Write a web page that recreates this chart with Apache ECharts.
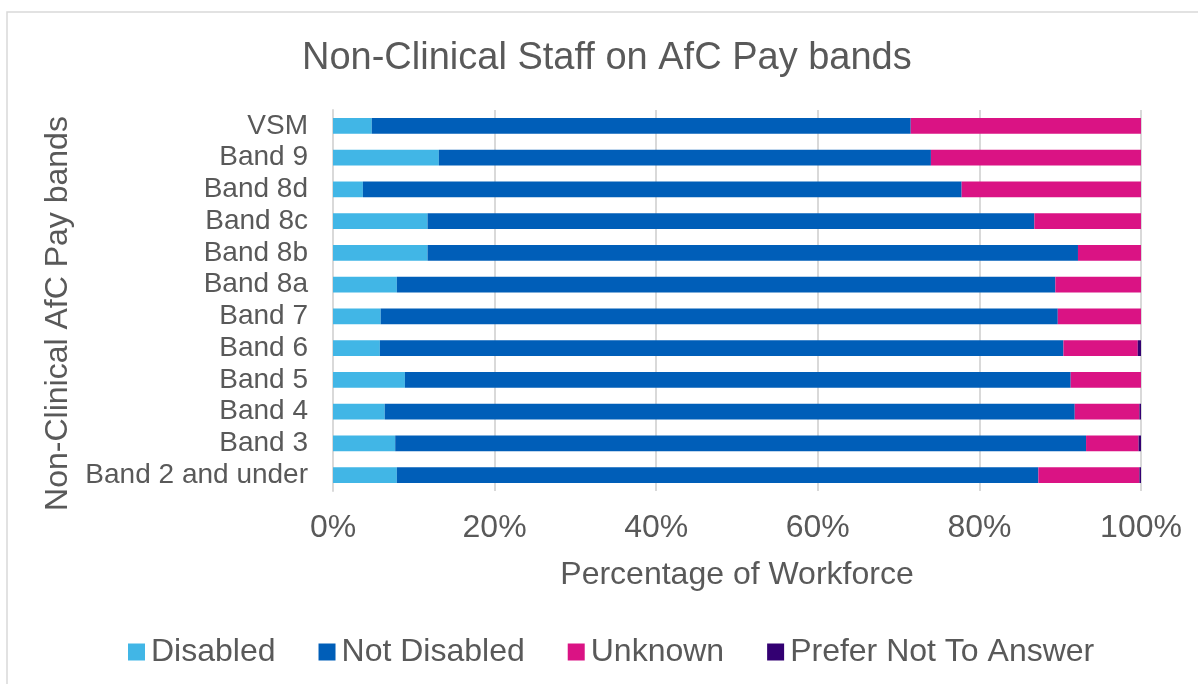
<!DOCTYPE html>
<html>
<head>
<meta charset="utf-8">
<style>
html,body{margin:0;padding:0;background:#fff;}
#chart{width:1198px;height:684px;}
</style>
<script src="https://cdn.jsdelivr.net/npm/echarts@6/dist/echarts.min.js"></script>
</head>
<body>
<div id="chart"></div>
<script>
const categories = ['Band 2 and under','Band 3','Band 4','Band 5','Band 6','Band 7','Band 8a','Band 8b','Band 8c','Band 8d','Band 9','VSM'];
const disabled    = [7.9, 7.7, 6.4, 8.9, 5.8, 5.9, 7.9, 11.7, 11.7, 3.7, 13.1, 4.8];
const notDisabled = [79.4, 85.5, 85.4, 82.4, 84.6, 83.8, 81.5, 80.5, 75.1, 74.1, 60.9, 66.7];
const unknown     = [12.5, 6.5, 8.0, 8.7, 9.2, 10.3, 10.6, 7.8, 13.2, 22.2, 26.0, 28.5];
const preferNot   = [0.2, 0.3, 0.2, 0.0, 0.4, 0.0, 0.0, 0.0, 0.0, 0.0, 0.0, 0.0];
const xTicks = [0, 20, 40, 60, 80, 100];

const font = 'Liberation Sans, Arial, sans-serif';
const txt = '#595959';
const chart = echarts.init(document.getElementById('chart'));
function s(name, data, color) {
  return {name, type:'bar', stack:'total', data, barWidth:'49.5%',
    itemStyle:{color}, emphasis:{disabled:true}};
}
chart.setOption({
  animation:false,
  graphic:[{type:'rect', shape:{x:7,y:12,width:1300,height:800},
    style:{fill:'none', stroke:'#d9d9d9', lineWidth:1.5}, silent:true, z:-1}],
  title:{text:'Non-Clinical Staff on AfC Pay bands', left:297, top:35,
    textStyle:{fontFamily:font, fontSize:38, fontWeight:'normal', color:txt}},
  legend:{left:123, top:631, itemWidth:17, itemHeight:17, itemGap:43, icon:'rect',
    textStyle:{fontFamily:font, fontSize:32, color:txt, padding:[0,0,0,1]},
    data:['Disabled','Not Disabled','Unknown','Prefer Not To Answer']},
  grid:{left:333, right:57, top:110, bottom:193},
  xAxis:{type:'value', min:0, max:100, interval:20,
    axisLabel:{formatter: v => xTicks.includes(v) ? v + '%' : '', fontFamily:font, fontSize:32, color:txt, margin:21},
    axisLine:{show:false}, axisTick:{show:false},
    splitLine:{lineStyle:{color:'#d9d9d9', width:2}},
    name:'Percentage of Workforce', nameLocation:'middle', nameGap:68,
    nameTextStyle:{fontFamily:font, fontSize:32, color:txt}},
  yAxis:{type:'category', data:categories,
    axisLabel:{interval:0, fontFamily:font, fontSize:28, color:txt, margin:25},
    axisLine:{lineStyle:{color:'#d9d9d9', width:2}}, axisTick:{show:false},
    name:'Non-Clinical AfC Pay bands', nameLocation:'middle', nameGap:254,
    nameTextStyle:{fontFamily:font, fontSize:32, color:txt, padding:[0,26,0,0]}},
  series:[
    s('Disabled', disabled, '#41B6E6'),
    s('Not Disabled', notDisabled, '#005EB8'),
    s('Unknown', unknown, '#DA1384'),
    s('Prefer Not To Answer', preferNot, '#330072')
  ]
});
</script>
</body>
</html>
